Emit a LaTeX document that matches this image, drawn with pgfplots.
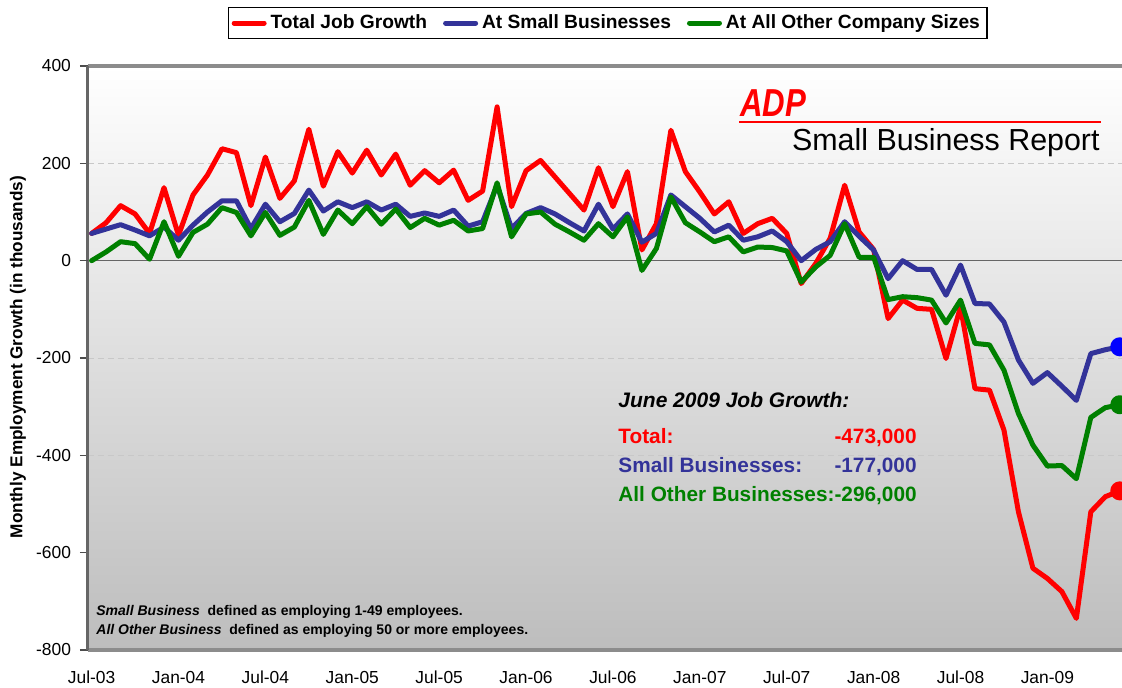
\documentclass[border=0pt]{standalone}
\usepackage{fontspec}
\setmainfont{Liberation Sans}
\usepackage{pgfplots}
\usepackage{pgfplotstable}
\pgfplotsset{compat=1.18}
\definecolor{adpred}{HTML}{FF0000}
\definecolor{adpblue}{HTML}{333399}
\definecolor{adpgreen}{HTML}{008000}
\definecolor{gridgray}{HTML}{C8C8C8}
\definecolor{framegray}{HTML}{8C8C8C}
\definecolor{bggray}{HTML}{BDBDBD}

\pgfplotstableread{
i tot small other
0 56 56 0
1 78 65 18
2 113 74 39
3 96 63 35
4 56 51 3
5 150 69 80
6 52 42 9
7 135 73 58
8 176 100 75
9 230 123 109
10 222 123 99
11 113 66 51
12 213 116 99
13 128 80 52
14 164 97 69
15 270 145 124
16 153 102 54
17 224 121 104
18 180 109 76
19 227 121 111
20 176 104 75
21 219 116 106
22 155 91 68
23 185 98 87
24 160 91 73
25 186 104 83
26 124 71 61
27 143 80 66
28 316 155 160
29 111 66 49
30 185 97 96
31 206 109 100
32 172 96 75
33 138 78 59
34 104 61 42
35 191 116 76
36 111 65 49
37 183 96 90
38 22 38 -20
39 76 56 25
40 268 135 131
41 183 111 78
42 141 87 59
43 96 59 39
44 121 73 49
45 56 42 18
46 76 49 28
47 87 61 27
48 56 39 20
49 -47 0 -44
50 -6 23 -13
51 46 39 11
52 155 80 76
53 59 50 7
54 23 22 7
55 -119 -37 -80
56 -81 0 -74
57 -98 -18 -76
58 -100 -18 -81
59 -201 -71 -128
60 -95 -9 -81
61 -263 -88 -170
62 -266 -89 -173
63 -348 -126 -225
64 -516 -204 -314
65 -632 -252 -379
66 -653 -230 -422
67 -680 -258 -421
68 -735 -287 -448
69 -516 -191 -322
70 -485 -183 -302
71 -473 -177 -296
}\jobdata

\pgfplotstableread{
i v
71 -473
}\endtot
\pgfplotstableread{
i v
71 -177
}\endsmall
\pgfplotstableread{
i v
71 -296
}\endother

\newcommand{\px}[2]{({#1*0.5pt},{(687-#2)*0.5pt})}

\begin{document}
\begin{tikzpicture}
\useasboundingbox (0,0) rectangle (561pt,343.5pt);
\begin{axis}[
  at={(44pt,18.5pt)}, anchor=south west,
  scale only axis, width=517.7pt, height=292pt,
  xmin=-0.25, xmax=71.25, ymin=-800, ymax=400,
  xtick={0,6,...,66},
  xticklabels={Jul-03,Jan-04,Jul-04,Jan-05,Jul-05,Jan-06,Jul-06,Jan-07,Jul-07,Jan-08,Jul-08,Jan-09},
  ytick={-800,-600,...,400},
  extra y ticks={0},
  extra y tick labels={},
  extra y tick style={grid=major, major grid style={solid, draw=black!60, line width=0.7pt}},
  ymajorgrids,
  major grid style={draw=gridgray, dash pattern=on 3pt off 2pt, line width=0.5pt},
  separate axis lines,
  x axis line style={draw=framegray, line width=2pt},
  y axis line style={draw=black!60, line width=1.5pt},
  ytick pos=left,
  tick align=outside,
  major tick length=4pt,
  ytick style={draw=black!70, line width=0.6pt},
  xtick style={draw=none},
  /pgf/number format/assume math mode=true,
  yticklabel style={font=\fontsize{8.7}{10}\selectfont, xshift=-1pt},
  xticklabel style={font=\fontsize{8.7}{10}\selectfont, yshift=-3pt},
  axis background/.style={shade, top color=white, bottom color=bggray},
  legend style={at={(0.502,1.0736)}, anchor=center, draw=black, line width=0.6pt,
    fill=white, font=\bfseries\fontsize{9.6}{11}\selectfont, inner sep=1.5pt,
    /tikz/every even column/.append style={column sep=6pt}},
  legend columns=3,
  legend image code/.code={\draw[#1, line width=2.5pt, line cap=round] (0pt,0pt) -- (15pt,0pt);},
  every axis plot/.append style={line width=2.5pt, line join=round, line cap=round},
]
\addplot[adpred, mark=none] table[x=i, y=tot] {\jobdata};
\addlegendentry{Total Job Growth}
\addplot[adpblue, mark=none] table[x=i, y=small] {\jobdata};
\addlegendentry{At Small Businesses}
\addplot[adpgreen, mark=none] table[x=i, y=other] {\jobdata};
\addlegendentry{At All Other Company Sizes}
\addplot[forget plot, only marks, mark=*, mark size=3.5pt, color=adpred] table[x=i, y=v] {\endtot};
\addplot[forget plot, only marks, mark=*, mark size=3.5pt, color=blue] table[x=i, y=v] {\endsmall};
\addplot[forget plot, only marks, mark=*, mark size=3.5pt, color=adpgreen] table[x=i, y=v] {\endother};
\end{axis}

% y label
\node[rotate=90, font=\bfseries\fontsize{8.6}{9}\selectfont] at \px{18}{357} {Monthly Employment Growth (in thousands)};

% ADP logo and title
\node[anchor=base west, inner sep=0pt, text=adpred, xscale=0.8, font=\bfseries\itshape\fontsize{19.5}{20}\selectfont] at \px{740}{117} {ADP};
\draw[adpred, line width=1pt] \px{739}{122} -- \px{1101}{122};
\node[anchor=base east, inner sep=0pt, font=\fontsize{15.2}{16}\selectfont] at \px{1100}{150} {Small Business Report};

% June 2009 summary
\node[anchor=base west, inner sep=0pt, font=\bfseries\itshape\fontsize{10.5}{12}\selectfont] at \px{618}{407} {June 2009 Job Growth:};
\node[anchor=base west, inner sep=0pt, text=adpred, font=\bfseries\fontsize{10.4}{12}\selectfont] at \px{618}{443} {Total:};
\node[anchor=base east, inner sep=0pt, text=adpred, font=\bfseries\fontsize{10.4}{12}\selectfont] at \px{917}{443} {-473,000};
\node[anchor=base west, inner sep=0pt, text=adpblue, font=\bfseries\fontsize{10.4}{12}\selectfont] at \px{618}{472} {Small Businesses:};
\node[anchor=base east, inner sep=0pt, text=adpblue, font=\bfseries\fontsize{10.4}{12}\selectfont] at \px{917}{472} {-177,000};
\node[anchor=base west, inner sep=0pt, text=adpgreen, font=\bfseries\fontsize{10.4}{12}\selectfont] at \px{618}{501} {All Other Businesses:-296,000};

% footnote
\node[anchor=base west, inner sep=0pt, font=\bfseries\fontsize{7}{8}\selectfont] at \px{96}{615} {\textit{Small Business}\ \ defined as employing 1-49 employees.};
\node[anchor=base west, inner sep=0pt, font=\bfseries\fontsize{7}{8}\selectfont] at \px{96}{634} {\textit{All Other Business}\ \ defined as employing 50 or more employees.};
\end{tikzpicture}
\end{document}
